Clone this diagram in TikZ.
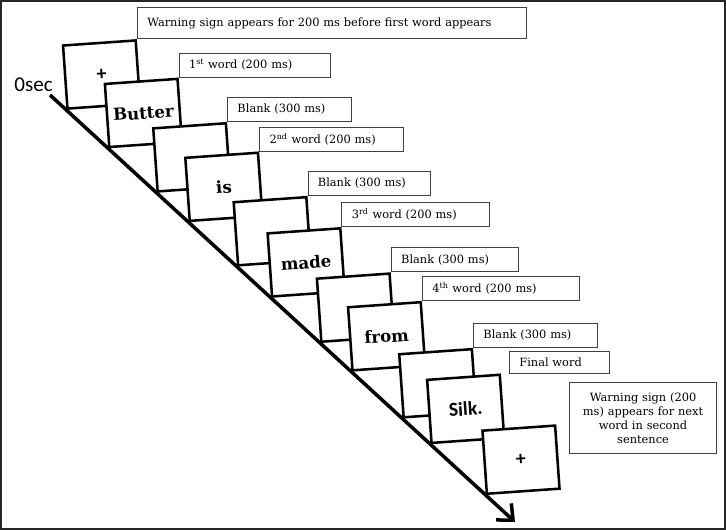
\documentclass[tikz,border=0pt]{standalone}
\usepackage{fontspec}
\setmainfont{DejaVu Serif}
\newfontfamily\sansword{Carlito}
\usetikzlibrary{positioning,arrows.meta}

\begin{document}
\begin{tikzpicture}[x=0.025cm,y=-0.025cm,
  screen/.style={draw,line width=1.8pt,fill=white,rotate=4,anchor=south west,
    minimum width=1.82cm,minimum height=1.58cm,inner sep=0pt,
    font=\fontsize{11.8}{13}\selectfont\bfseries},
  info/.style={draw=black!75,line width=0.6pt,fill=white,anchor=south west,
    inner xsep=0.25cm,inner ysep=0pt,minimum height=0.6cm,align=left,
    font=\fontsize{8.1}{9.9}\selectfont}]
\useasboundingbox (0,0) rectangle (726,530);
\draw [line width=1pt, black!85] (1,1) rectangle (725,529);
%% time line
\coordinate (start) at (50,95);
\coordinate (end) at (515,522);
\draw [line width=2.5pt, -{Straight Barb[length=9pt,width=16pt,line width=2.5pt]}] (start) -- (end);
\node [anchor=base east, inner sep=0pt, font=\sansword\fontsize{15}{16}\selectfont] (zero) at (53,92) {0sec};
%% screens
\path (start) -- (end)
  node [screen, pos=0.035] (s1) {\sansword\fontsize{14}{16}\selectfont\bfseries +}
  node [screen, pos=0.125] (s2) {Butter}
  node [screen, pos=0.229] (s3) {}
  node [screen, pos=0.298] (s4) {is}
  node [screen, pos=0.402] (s5) {}
  node [screen, pos=0.475] (s6) {made}
  node [screen, pos=0.581] (s7) {}
  node [screen, pos=0.648] (s8) {from}
  node [screen, pos=0.758] (s9) {}
  node [screen, pos=0.818] (s10) {\sansword\fontsize{14}{16}\selectfont\bfseries Silk.}
  node [screen, pos=0.937] (s11) {\sansword\fontsize{14}{16}\selectfont\bfseries +};
%% labels
\node [info, text width=9.22cm, minimum height=0.78cm] (warn) at (s1.north east) {Warning sign appears for 200 ms before first word appears};
\node [info, text width=3.28cm] (w1) at (s2.north east) {1\textsuperscript{st} word (200 ms)};
\node [info, text width=2.6cm] (b1) at (s3.north east) {Blank (300 ms)};
\node [info, text width=3.1cm] (w2) at (s4.north east) {2\textsuperscript{nd} word (200 ms)};
\node [info, text width=2.55cm] (b2) at (s5.north east) {Blank (300 ms)};
\node [info, text width=3.2cm] (w3) at (s6.north east) {3\textsuperscript{rd} word (200 ms)};
\node [info, text width=2.68cm] (b3) at (s7.north east) {Blank (300 ms)};
\node [info, text width=3.43cm] (w4) at (s8.north east) {4\textsuperscript{th} word (200 ms)};
\node [info, text width=2.6cm] (b4) at (s9.north east) {Blank (300 ms)};
\node [info, text width=2cm, minimum height=0.53cm, xshift=0.2cm] (final) at (s10.north east) {Final word};
\node [info, anchor=north west, text width=3.18cm, minimum height=1.78cm, align=center] (warn2) at (569,382) {Warning sign (200\\ ms) appears for next\\ word in second\\ sentence};
\end{tikzpicture}
\end{document}
